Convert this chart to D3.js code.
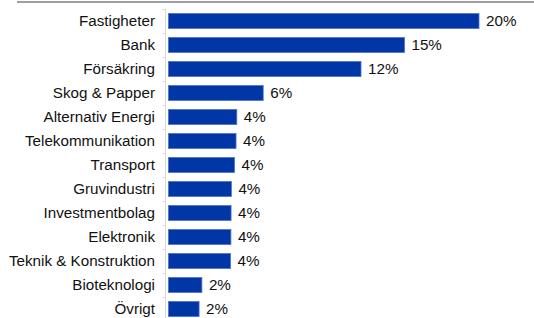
<!DOCTYPE html>
<html>
<head>
<meta charset="utf-8">
<script src="https://cdn.jsdelivr.net/npm/d3@7"></script>
<style>
html,body{margin:0;padding:0;background:#fff;}
svg{display:block;}
</style>
</head>
<body>
<svg id="chart" width="534" height="318"></svg>
<script>
const categories = ["Fastigheter","Bank","Försäkring","Skog & Papper","Alternativ Energi","Telekommunikation","Transport","Gruvindustri","Investmentbolag","Elektronik","Teknik & Konstruktion","Bioteknologi","Övrigt"];
const values = [20.0, 15.2, 12.4, 6.1, 4.4, 4.35, 4.25, 4.05, 4.03, 4.02, 4.0, 2.15, 1.97];
const valueLabels = ["20%","15%","12%","6%","4%","4%","4%","4%","4%","4%","4%","2%","2%"];

const svg = d3.select("#chart");
const font = "'Liberation Sans', Arial, sans-serif";

const x = d3.scaleLinear().domain([0, 20]).range([168.5, 479]);
const y = d3.scaleBand().domain(categories).range([9, 321]).paddingInner(0.375).paddingOuter(0.1875);

// top rule
svg.append("line").attr("x1", 17).attr("x2", 534).attr("y1", 2).attr("y2", 2)
  .attr("stroke", "#808080").attr("stroke-width", 1.6);

// y axis line and ticks at band boundaries
const axisX = 165.5;
svg.append("line").attr("x1", axisX).attr("x2", axisX).attr("y1", y.range()[0]).attr("y2", 318)
  .attr("stroke", "#d9d9d9").attr("stroke-width", 1);
const step = y.step();
svg.append("g").selectAll("line").data(d3.range(categories.length + 1)).join("line")
  .attr("x1", axisX - 3).attr("x2", axisX)
  .attr("y1", i => y.range()[0] + i * step + 0.5).attr("y2", i => y.range()[0] + i * step + 0.5)
  .attr("stroke", "#d9d9d9").attr("stroke-width", 1);

// bars
svg.append("g").selectAll("rect").data(categories).join("rect")
  .attr("x", x(0))
  .attr("y", d => y(d))
  .attr("width", (d, i) => x(values[i]) - x(0))
  .attr("height", y.bandwidth())
  .attr("fill", "#0036a5")
  .attr("stroke", "#4f73c9").attr("stroke-width", 0.8);

// category labels
svg.append("g").selectAll("text").data(categories).join("text")
  .attr("x", 155)
  .attr("y", d => y(d) + y.bandwidth() / 2)
  .attr("dy", "0.35em")
  .attr("text-anchor", "end")
  .attr("font-family", font).attr("font-size", "15.2px").attr("fill", "#111")
  .text(d => d);

// value labels
svg.append("g").selectAll("text").data(categories).join("text")
  .attr("x", (d, i) => x(values[i]) + 7)
  .attr("y", d => y(d) + y.bandwidth() / 2)
  .attr("dy", "0.35em")
  .attr("font-family", font).attr("font-size", "15.2px").attr("fill", "#111")
  .text((d, i) => valueLabels[i]);
</script>
</body>
</html>
